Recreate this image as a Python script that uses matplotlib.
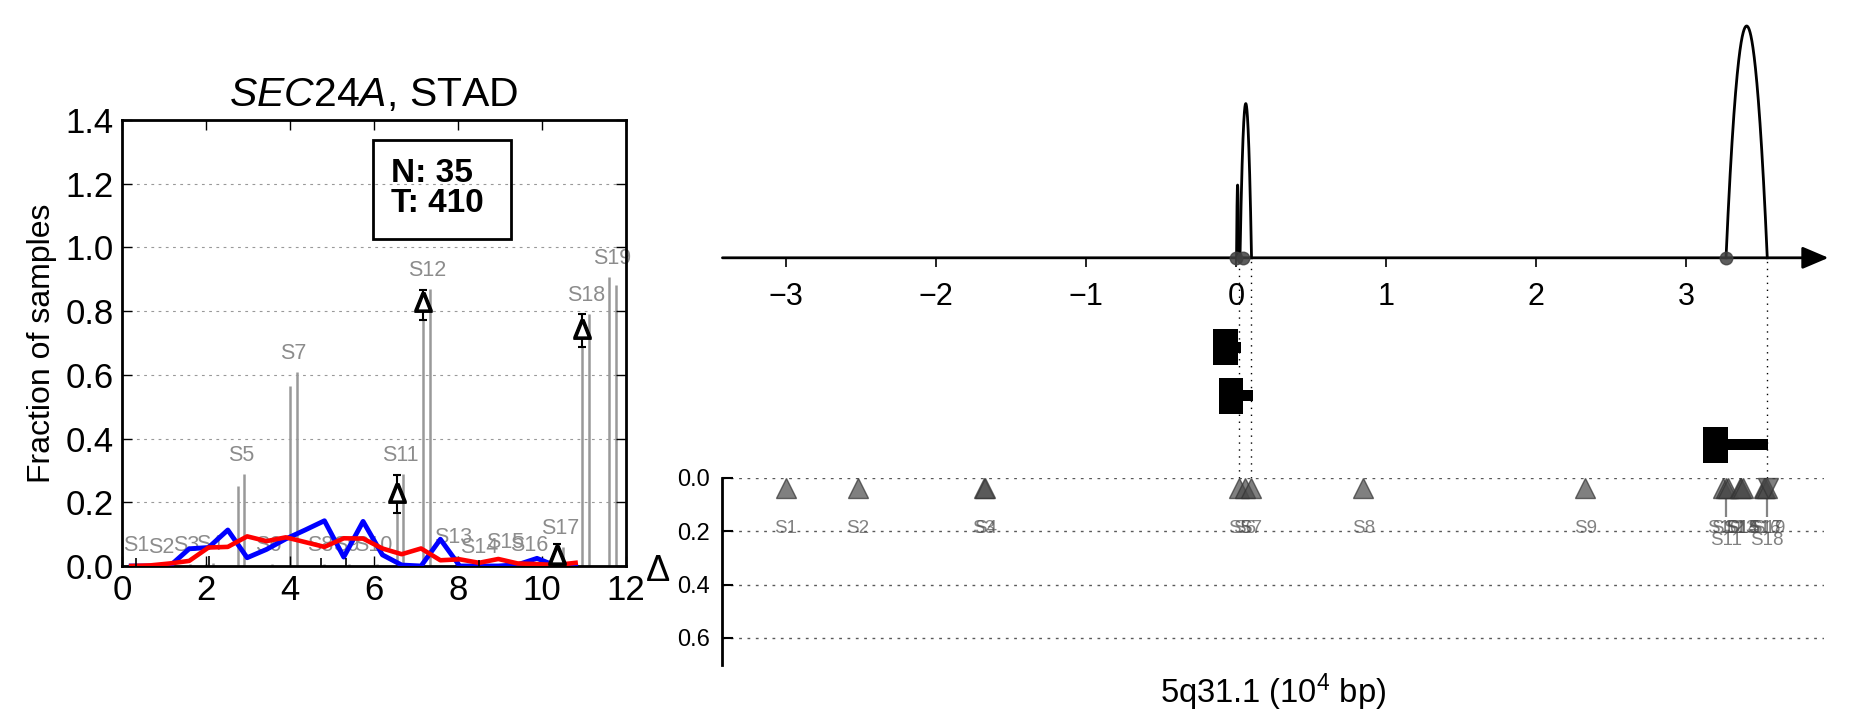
import matplotlib
matplotlib.use("Agg")
import matplotlib.pyplot as plt
import numpy as np
from matplotlib import font_manager
from matplotlib.patches import Rectangle

_installed = {f.name for f in font_manager.fontManager.ttflist}
BASE = "Liberation Sans"
NARROW = "Liberation Sans Narrow" if "Liberation Sans Narrow" in _installed else BASE

plt.rcParams["font.family"] = [BASE, "DejaVu Sans"]
plt.rcParams["mathtext.fontset"] = "custom"
plt.rcParams["mathtext.rm"] = BASE
plt.rcParams["mathtext.it"] = BASE + ":italic"
plt.rcParams["mathtext.bf"] = BASE + ":bold"

# ---------------- left panel: fraction of samples per site ----------------
sample_names = ["S1", "S2", "S3", "S4", "S5", "S6", "S7", "S8", "S9", "S10",
                "S11", "S12", "S13", "S14", "S15", "S16", "S17", "S18", "S19"]
pos_normal = [0.25, 0.85, 1.45, 2.0, 2.76, 3.4, 4.0, 4.65, 5.25, 5.9,
              6.54, 7.17, 7.8, 8.42, 9.05, 9.62, 10.36, 10.96, 11.59]
pos_tumor = [0.41, 1.01, 1.61, 2.16, 2.9, 3.56, 4.17, 4.81, 5.41, 6.06,
             6.7, 7.34, 7.96, 8.58, 9.21, 9.78, 10.5, 11.12, 11.75]
frac_normal = [0.0, 0.0, 0.0, 0.005, 0.25, 0.0, 0.565, 0.0, 0.0, 0.0,
               0.165, 0.772, 0.0, 0.0, 0.0, 0.0, 0.05, 0.686, 0.906]
frac_tumor = [0.005, 0.0, 0.005, 0.01, 0.29, 0.005, 0.61, 0.005, 0.005, 0.005,
              0.29, 0.87, 0.03, 0.0, 0.015, 0.005, 0.06, 0.79, 0.882]

delta_names = ["S11", "S12", "S17", "S18"]
delta_val = [0.23, 0.83, 0.035, 0.745]
delta_lo = [0.166, 0.772, 0.0, 0.686]
delta_hi = [0.285, 0.866, 0.068, 0.79]

stub_names = ["S1", "S4", "S8", "S9", "S14"]
stub_hi = [0.025, 0.03, 0.025, 0.025, 0.02]

bin_x = [0.22, 0.68, 1.14, 1.6, 2.06, 2.52, 2.98, 3.44, 3.9, 4.36, 4.82, 5.28,
         5.74, 6.2, 6.66, 7.12, 7.58, 8.04, 8.5, 8.96, 9.42, 9.88, 10.34, 10.8]
blue_frac = [0.0, 0.0, 0.0, 0.054, 0.058, 0.113, 0.026, 0.052, 0.085, 0.113, 0.142, 0.028,
             0.14, 0.035, 0.003, 0.0, 0.084, 0.0, 0.0, 0.0, 0.004, 0.024, 0.0, 0.0]
red_frac = [0.0, 0.002, 0.008, 0.016, 0.058, 0.06, 0.093, 0.078, 0.09, 0.075, 0.06, 0.087,
            0.086, 0.055, 0.037, 0.055, 0.018, 0.021, 0.01, 0.022, 0.008, 0.006, 0.003, 0.01]

n_normal = 35
n_tumor = 410

# ---------------- right panel: locus view ----------------
locus_ticks = [-3, -2, -1, 0, 1, 2, 3]
arc_start = [0.004, 0.027, 3.267]
arc_end = [0.018, 0.104, 3.542]
arc_height = [1.5, 3.18, 4.78]
anchor_x = [0.0, 0.045, 3.267]
guide_x = [0.022, 0.1, 3.542]

gene_row = [0, 1, 2]
gene_head_start = [-0.151, -0.111, 3.116]
gene_body_start = [0.011, 0.049, 3.278]
gene_body_end = [0.031, 0.111, 3.549]

site_x = [-3.0, -2.52, -1.68, -1.67, 0.022, 0.06, 0.1, 0.85, 2.33, 3.25,
          3.27, 3.28, 3.36, 3.37, 3.38, 3.52, 3.53, 3.54, 3.55]
site_up = [True] * 18 + [False]
site_low_label = ["S11", "S18"]

fig = plt.figure(figsize=(18.51, 7.18), dpi=100)

# ======== left axes ========
ax = fig.add_axes([0.0659, 0.2117, 0.2723, 0.6212])
ax.vlines(pos_normal, 0, frac_normal, color="0.6", lw=1.8, zorder=1)
ax.vlines(pos_tumor, 0, frac_tumor, color="0.6", lw=1.8, zorder=1)
for name, xn, xt, fn, ft in zip(sample_names, pos_normal, pos_tumor, frac_normal, frac_tumor):
    ax.text((xn + xt) / 2, max(fn, ft) + 0.025, name, ha="center", va="bottom",
            fontsize=15.5, color="0.55", zorder=1)

ax.plot(bin_x, blue_frac, color="b", lw=3.5, zorder=3)
ax.plot(bin_x, red_frac, color="r", lw=3.3, zorder=4)

idx = [sample_names.index(n) for n in delta_names]
dx = [pos_normal[i] for i in idx]
yerr = [[v - lo for v, lo in zip(delta_val, delta_lo)],
        [hi - v for v, hi in zip(delta_val, delta_hi)]]
ax.errorbar(dx, delta_val, yerr=yerr, fmt="none", ecolor="k", elinewidth=1.5,
            capsize=3, capthick=1.5, zorder=5)
ax.plot(dx, delta_val, ls="none", marker="^", ms=12, mfc="w", mec="w", zorder=6)
ax.plot(dx, delta_val, ls="none", marker=r"$\Delta$", ms=14, color="k", zorder=7)

sidx = [sample_names.index(n) for n in stub_names]
sx = [(pos_normal[i] + pos_tumor[i]) / 2 for i in sidx]
ax.vlines(sx, 0, stub_hi, color="k", lw=1.2, zorder=5)

ax.add_patch(Rectangle((5.98, 1.027), 3.28, 0.311, fill=False, lw=2, ec="k", zorder=8))
ax.text(6.4, 1.185, f"N: {n_normal}\nT: {n_tumor}", ha="left", va="center",
        fontsize=24, fontweight="bold", linespacing=0.98, zorder=8)

ax.set_xlim(0, 12)
ax.set_ylim(0, 1.4)
ax.set_xticks(range(0, 13, 2))
ax.set_yticks(np.arange(0, 1.41, 0.2))
ax.set_yticklabels([f"{v:.1f}" for v in np.arange(0, 1.41, 0.2)])
ax.yaxis.grid(True, ls=(0, (2.5, 4)), color="0.6", lw=0.8)
ax.tick_params(direction="in", top=True, right=True, length=7, width=1,
               labelsize=25, pad=6)
for sp in ax.spines.values():
    sp.set_linewidth(2)
ax.set_ylabel("Fraction of samples", fontsize=23, labelpad=6)
ax.set_title(r"$\mathit{SEC24A}$, STAD", fontsize=29.5, pad=10)

# ======== right top: locus line, arcs, genes ========
XL = (-3.423, 3.92)
ROW0, ROW_STEP = -1.84, 1.005
HEAD_H, BODY_H = 0.742, 0.227

ag = fig.add_axes([0.3903, 0.3343, 0.5951, 0.6657])
ag.set_xlim(*XL)
ag.set_ylim(-4.54, 5.316)
ag.axis("off")

ag.annotate("", xy=(3.95, 0), xytext=(XL[0], 0), annotation_clip=False,
            arrowprops=dict(arrowstyle="-|>,head_length=0.8,head_width=0.34",
                            lw=2, color="k", mutation_scale=20, shrinkA=0, shrinkB=0))
ag.vlines(locus_ticks, -0.185, 0, color="k", lw=1.2)
for t in locus_ticks:
    ag.text(t, -0.8, str(t).replace("-", "\u2212"), ha="center", va="center",
            fontsize=22, family=NARROW)

for s, e, h in zip(arc_start, arc_end, arc_height):
    xs = np.linspace(s, e, 200)
    c, w = (s + e) / 2, (e - s) / 2
    ag.plot(xs, h * (1 - ((xs - c) / w) ** 2), color="k", lw=2, zorder=3)

ag.plot(anchor_x, [0] * len(anchor_x), ls="none", marker="o", ms=9,
        color="0.25", alpha=0.85, zorder=4)
ag.vlines(guide_x, -4.54, 0, color="k", lw=1, linestyles=(0, (1, 4)), zorder=1)

for r, h0, b0, b1 in zip(gene_row, gene_head_start, gene_body_start, gene_body_end):
    yc = ROW0 - r * ROW_STEP
    ag.add_patch(Rectangle((h0, yc - HEAD_H / 2), b0 - h0, HEAD_H, color="k", lw=0))
    ag.add_patch(Rectangle((b0, yc - BODY_H / 2), b1 - b0, BODY_H, color="k", lw=0))

# ======== right bottom: delta track ========
ad = fig.add_axes([0.3903, 0.0744, 0.5951, 0.2599])
ad.set_xlim(*XL)
ad.set_ylim(0.7, 0.0)
for k in ("top", "right", "bottom"):
    ad.spines[k].set_visible(False)
ad.spines["left"].set_linewidth(2)
ad.set_xticks([])
ad.set_yticks([0.0, 0.2, 0.4, 0.6])
ad.set_yticklabels(["0.0", "0.2", "0.4", "0.6"], family=NARROW)
ad.tick_params(axis="y", direction="in", length=8, width=1.5, labelsize=17, pad=9)
ad.yaxis.grid(True, ls=(0, (2, 4)), color="0.35", lw=1)
ad.set_ylabel("\u0394", rotation=0, fontsize=26, va="center", labelpad=14)
ad.set_xlabel("5q31.1 (10$^4$ bp)", fontsize=23.5, family=NARROW, labelpad=5)

for name, x, up in zip(sample_names, site_x, site_up):
    ad.plot(x, 0.037, marker="^" if up else "v", ms=15, color="#4a4a4a",
            mec="#333333", alpha=0.7, clip_on=False, zorder=3)
    low = name in site_low_label
    if low:
        ad.vlines(x, 0.075, 0.145, color="0.4", lw=1.6, alpha=0.8)
    ad.text(x, 0.235 if low else 0.19, name, ha="center", va="center",
            fontsize=13.5, color="0.3", alpha=0.7, family=NARROW, zorder=2)

fig.savefig("out.png", dpi=100)
